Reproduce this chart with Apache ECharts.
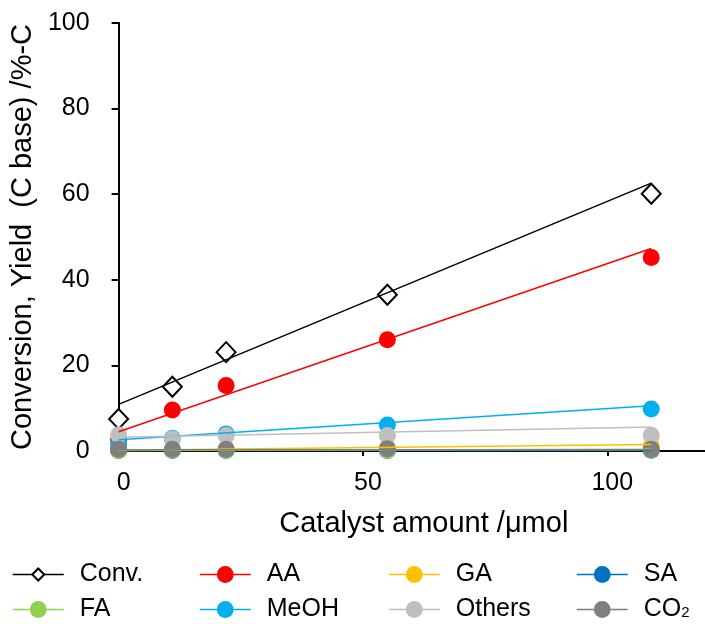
<!DOCTYPE html>
<html>
<head>
<meta charset="utf-8">
<script src="https://cdn.jsdelivr.net/npm/echarts@6/dist/echarts.min.js"></script>
<style>
html,body{margin:0;padding:0;background:#fff;}
#chart{width:705px;height:624px;}
</style>
</head>
<body>
<div id="chart"></div>
<script>
// ---- data ----
var catalyst = [0, 11, 22, 55, 109];
var conv   = [7.5, 15.0, 23.1, 36.5, 60.1];
var aa     = [2.6, 9.6, 15.3, 26.0, 45.2];
var ga     = [0.3, 0.3, 0.5, 0.8, 1.3];
var sa     = [0.1, 0.1, 0.1, 0.1, 0.2];
var fa     = [0.1, 0.2, 0.2, 0.2, 0.3];
var meoh   = [1.5, 3.0, 4.0, 6.1, 9.8];
var others = [3.8, 2.8, 3.6, 3.6, 3.7];
var co2    = [0.4, 0.4, 0.4, 0.5, 0.4];

// linear trend lines: value at start / end of the fitted range
var trendX      = [0, 109];
var convTrend   = [10.9, 62.6];
var aaTrend     = [4.5, 47.3];
var gaTrend     = [0.2, 1.5];
var saTrend     = [0.1, 0.1];
var faTrend     = [0.1, 0.4];
var meohTrend   = [2.6, 10.6];
var othersTrend = [3.2, 5.6];
var co2Trend    = [0.3, 0.3];

var xTicks = [0, 50, 100];
var yTicks = [0, 20, 40, 60, 80, 100];

var seriesNames = ['Conv.', 'AA', 'GA', 'SA', 'FA', 'MeOH', 'Others', 'CO2'];
var seriesVals  = [conv, aa, ga, sa, fa, meoh, others, co2];
var trendVals   = [convTrend, aaTrend, gaTrend, saTrend, faTrend, meohTrend, othersTrend, co2Trend];
var colors = ['#000000', '#FF0000', '#FFC000', '#0070C0', '#92D050', '#00B0F0', '#BFBFBF', '#7F7F7F'];

var FONT = 'Arial, "Liberation Sans", sans-serif';

function pairs(xs, ys) { return xs.map(function (x, i) { return [x, ys[i]]; }); }

var series = [];
seriesNames.forEach(function (name, i) {
  var isConv = i === 0;
  series.push({
    name: name,
    type: 'line',
    data: pairs(catalyst, seriesVals[i]),
    symbol: isConv ? 'diamond' : 'circle',
    symbolSize: isConv ? [19, 20] : 17,
    showSymbol: true,
    showAllSymbol: true,
    lineStyle: { color: colors[i], width: 1.5, opacity: 0 },
    itemStyle: isConv ? { color: '#fff', borderColor: '#000', borderWidth: 2 } : { color: colors[i], borderWidth: 0 },
    emphasis: { disabled: true },
    animation: false,
    z: 2
  });
});
seriesNames.forEach(function (name, i) {
  series.push({
    name: name + ' trend',
    type: 'line',
    data: pairs(trendX, trendVals[i]),
    symbol: 'none',
    lineStyle: { color: colors[i], width: 1.5 },
    emphasis: { disabled: true },
    animation: false,
    silent: true,
    z: 3
  });
});

// legend layout: 4 columns x 2 rows (Excel order, row-wise)
var legendLefts = [12, 199, 388, 576];
var legendTops = [562, 597];
var legends = seriesNames.map(function (name, k) {
  return {
    orient: 'horizontal',
    left: legendLefts[k % 4],
    top: legendTops[Math.floor(k / 4)],
    padding: 0,
    itemWidth: 51,
    itemHeight: k === 0 ? 15 : 21,
    selectedMode: false,
    data: [name],
    lineStyle: { width: 1.5, opacity: 1 },
    formatter: function (n) { return n === 'CO2' ? 'CO{sub|2}' : n; },
    textStyle: {
      fontFamily: FONT, fontSize: 25, lineHeight: 21, color: '#000', padding: [0, 0, 0, 11],
      rich: { sub: { fontFamily: FONT, fontSize: 15, lineHeight: 3, verticalAlign: 'bottom', color: '#000' } }
    }
  };
});

var option = {
  animation: false,
  backgroundColor: '#fff',
  grid: { left: 118, right: -1, top: 23, bottom: 173, containLabel: false },
  legend: legends,
  xAxis: {
    type: 'value',
    min: 0, max: 120, interval: 50,
    name: 'Catalyst amount /μmol',
    nameLocation: 'middle',
    nameGap: 58,
    nameTextStyle: { fontFamily: FONT, fontSize: 29, color: '#000', padding: [0, 0, 0, 24] },
    axisLine: { show: true, lineStyle: { color: '#000', width: 2 } },
    axisTick: { show: true, inside: false, length: 5, lineStyle: { color: '#000', width: 2 } },
    axisLabel: { fontFamily: FONT, fontSize: 25, color: '#000', margin: 20, showMaxLabel: false, padding: [0, 0, 0, 10],
      formatter: function (v) { return xTicks.indexOf(v) >= 0 ? String(v) : ''; } },
    splitLine: { show: false }
  },
  yAxis: {
    type: 'value',
    min: 0, max: 100, interval: 20,
    name: 'Conversion, Yield  (C base) /%-C',
    nameLocation: 'middle',
    nameGap: 70,
    nameTextStyle: { fontFamily: FONT, fontSize: 29, color: '#000' },
    axisLine: { show: true, lineStyle: { color: '#000', width: 2 } },
    axisTick: { show: true, inside: false, length: 7, lineStyle: { color: '#000', width: 2 } },
    axisLabel: { fontFamily: FONT, fontSize: 25, color: '#000', margin: 29,
      formatter: function (v) { return yTicks.indexOf(v) >= 0 ? String(v) : ''; } },
    splitLine: { show: false }
  },
  series: series
};

var chart = echarts.init(document.getElementById('chart'), null, { renderer: 'canvas' });
chart.setOption(option);
</script>
</body>
</html>
